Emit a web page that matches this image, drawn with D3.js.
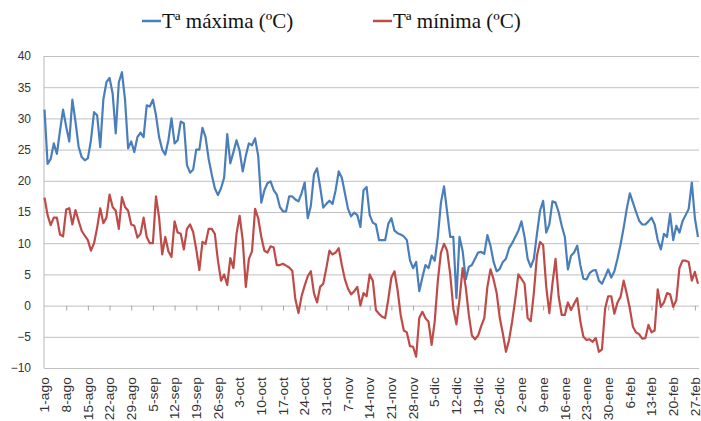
<!DOCTYPE html>
<html><head><meta charset="utf-8">
<script src="https://cdnjs.cloudflare.com/ajax/libs/d3/7.8.5/d3.min.js"></script>
<style>
body{margin:0;background:#fff;}
svg{display:block;}
</style></head><body>
<svg id="chart" width="701" height="421"></svg>
<script>
// ---- data ----
const tickLabels = ["1-ago","8-ago","15-ago","22-ago","29-ago","5-sep","12-sep","19-sep","26-sep",
  "3-oct","10-oct","17-oct","24-oct","31-oct","7-nov","14-nov","21-nov","28-nov","5-dic","12-dic",
  "19-dic","26-dic","2-ene","9-ene","16-ene","23-ene","30-ene","6-feb","13-feb","20-feb","27-feb"];

const seriesNames = ["Tª máxima (ºC)", "Tª mínima (ºC)"];
const seriesColors = ["#4a7ebb", "#be4b48"];
const yTicks = [40, 35, 30, 25, 20, 15, 10, 5, 0, -5, -10];

const tmax = [
  31.4,22.7,23.5,26,24.3,28,31.4,28.7,26.3,33,
  29.5,25.5,23.8,23.3,23.6,26.5,31,30.5,25.4,33,
  35.8,36.5,34,27.6,35.8,37.4,33,25.2,26.3,24.6,
  27,27.7,27,32.1,31.9,33,30.5,27,25,24.2,
  26.5,30,26,26.5,29.5,29.2,22.5,21.3,21.8,25,
  25,28.5,27,23.5,21,18.8,17.7,18.8,20.5,27.5,
  22.8,24.6,26.5,24.8,21.5,24,26,25.7,26.8,24,
  16.5,18.5,19.6,19.9,18.5,17.8,15.8,15.1,15.1,17.5,
  17.5,17,16.7,18,19.7,14,16,21,22,19,
  15.7,16.3,16.8,16.3,18.5,21.5,20.5,18,15.5,14.3,
  14.9,14.5,12.6,18.5,19,14.5,13.3,13,10.5,10.5,
  10.5,13.1,14,12,11.6,11.4,11.1,10.5,7.3,6,
  7,2.3,4.5,6.5,6,8,7.2,11,16.5,19.1,
  15,11,11,1.2,11,8.8,4.2,6.2,6.5,7.5,
  8.5,8.6,8.3,11.3,9.6,7,5.5,5.9,7,7.5,
  9.2,10,11,12,13.5,11,7.5,6.2,7.5,11.5,
  15.2,16.8,11.7,13,16.7,16.5,15,12.8,11,5.8,
  8,8.5,9.6,6.5,4.3,4.2,5.2,5.6,5.7,4,
  3.5,4.6,5.8,4.5,5.5,7.5,9.8,12.5,15.5,18,
  16.5,15,13.6,13,13,13.5,14.1,13,10.5,9,
  11.5,11,14.7,10.5,12.8,11.7,13.5,14.5,15.5,19.7,
  14,11
];

const tmin = [
  17.3,14.5,12.9,14.1,14.1,11.4,11.1,15.4,15.6,13,
  15.3,13.6,12,11.2,10.5,8.8,10,12.5,15.6,13.2,
  14.1,17.8,15.8,15.2,12.3,17.4,15.8,15.2,13,12.8,
  10.9,11.5,14.1,11,10,10,17.5,14.1,8.2,11,
  8.7,7.8,13.5,11.7,11.5,9,12.3,13,11.8,9,
  5.7,10.2,9.9,12.3,12.3,11.5,7.2,4,5,3.3,
  7.6,6,11.5,14.4,10.5,3,7.5,8.7,15.5,14,
  11,8.8,8.5,9.5,9.3,6.5,6.5,6.7,6.4,6.1,
  5.6,1,-1.2,1.5,3.2,4.7,5.5,2,0.5,3,
  3.5,6,8.8,8.2,8.5,9.2,6.5,4.2,2.7,1.8,
  2.3,3,0,2,1.5,5,4,-0.7,-1.3,-1.8,
  -2,1,4.5,5.5,2.5,-1.5,-4,-4.3,-6.5,-6.6,
  -8.2,-2,-1,-2,-2.6,-6.3,-2.5,4,8.5,9.9,
  8.8,5,-0.5,-3,1,6,3,-1.5,-4.8,-5.4,
  -4.8,-3.3,-2,3,5.8,4.2,2,-2,-4.5,-7.4,
  -5.5,-2.5,1,5,4.3,3.5,-2,-2.5,2,8,
  10.2,9.7,3,-1.2,3.5,7.5,1.5,-1.5,-1.5,0.5,
  -0.7,0.3,1.2,-2.5,-5,-5.5,-5.4,-5.8,-5.2,-7.4,
  -7,-0.5,1.5,1.5,-1.3,0.5,1.4,4,1.9,-0.5,
  -3.4,-4.3,-4.6,-5.3,-5.2,-3.1,-4.3,-4,2.6,-0.2,
  0.5,2,1.8,-0.2,0.9,6,7.2,7.2,7,4,
  5.4,3.5
];

// ---- chart ----
const svg = d3.select("#chart");
const pLeft = 44, pRight = 699, pTop = 56, pBottom = 368;
const x = d3.scaleLinear().domain([0, tmax.length - 1]).range([pLeft + 0.5, pRight - 1]);
const y = d3.scaleLinear().domain([-10, 40]).range([pBottom, pTop]);
const labelFont = "'Liberation Sans', Arial, sans-serif";

// gridlines + y labels
const yAxis = d3.axisLeft(y).tickValues(yTicks).tickSize(-(pRight - pLeft)).tickPadding(13);
const gy = svg.append("g").attr("transform", `translate(${pLeft},0)`).call(yAxis);
gy.select(".domain").remove();
gy.selectAll(".tick line").attr("stroke", "#c0c0c0").attr("stroke-width", 1);
gy.selectAll(".tick text").attr("fill", "#333").style("font-family", labelFont).style("font-size", "12px");

// left axis line
svg.append("line").attr("x1", pLeft).attr("x2", pLeft).attr("y1", pTop).attr("y2", pBottom)
  .attr("stroke", "#b8b8b8").attr("stroke-width", 1);

// category tick marks at zero line
const tickIdx = tickLabels.map((d, i) => i * 7);
const xTicks = d3.axisBottom(x).tickValues(tickIdx.slice(1)).tickSize(5).tickFormat("");
const gx0 = svg.append("g").attr("transform", `translate(0,${y(0)})`).call(xTicks);
gx0.select(".domain").remove();
gx0.selectAll(".tick line").attr("stroke", "#a8a8a8");

// category labels at bottom
const xLab = d3.axisBottom(x).tickValues(tickIdx).tickSize(0).tickFormat((d, i) => tickLabels[i]);
const gx = svg.append("g").attr("transform", `translate(0,${pBottom})`).call(xLab);
gx.select(".domain").remove();
gx.selectAll(".tick text")
  .attr("transform", "scale(1,1.15) rotate(-90)")
  .attr("text-anchor", "end")
  .attr("x", -8).attr("y", 0).attr("dy", "0.35em")
  .attr("fill", "#333").style("font-family", labelFont).style("font-size", "12px");

// lines
const line = d3.line().x((d, i) => x(i)).y(d => y(d));
[tmax, tmin].forEach((s, k) => {
  svg.append("path").datum(s).attr("d", line)
    .attr("fill", "none").attr("stroke", seriesColors[k])
    .attr("stroke-width", 2.2).attr("stroke-linejoin", "round");
});

// legend
const legX = [142, 373];
const leg = svg.append("g");
seriesNames.forEach((n, k) => {
  const g = leg.append("g").attr("transform", `translate(${legX[k]},21)`);
  g.append("line").attr("x1", 0).attr("x2", 19).attr("y1", 0).attr("y2", 0)
    .attr("stroke", seriesColors[k]).attr("stroke-width", 2.5);
  g.append("text").attr("x", 20).attr("y", 7)
    .style("font-family", "'Liberation Serif', 'Times New Roman', serif")
    .style("font-size", "21px").attr("fill", "#111").text(n);
});
</script>
</body></html>
